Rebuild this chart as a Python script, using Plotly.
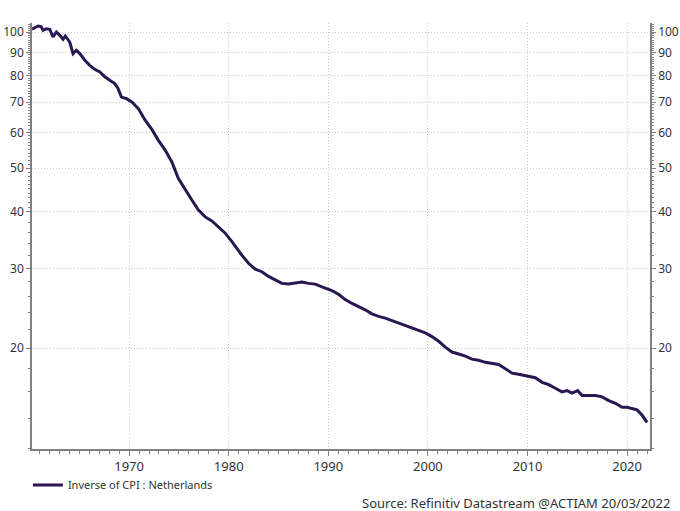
import plotly.graph_objects as go

# Decimal years and values
years = [1960.25, 1960.35, 1960.86, 1961.16, 1961.36, 1961.69, 1962.03, 1962.36, 1962.70, 1963.04,
         1963.37, 1963.60, 1964.04, 1964.37, 1964.70, 1965.05, 1965.55, 1966.05, 1966.55, 1967.06,
         1967.56, 1968.06, 1968.56, 1968.89, 1969.23, 1969.73, 1970.27, 1970.93, 1971.61, 1972.28,
         1972.94, 1973.62, 1974.29, 1974.95, 1975.63, 1976.30, 1976.96, 1977.64, 1978.31, 1978.97,
         1979.65, 1980.32, 1980.65, 1981.32, 1981.99, 1982.66, 1983.33, 1984.00, 1984.67, 1985.34,
         1986.01, 1986.68, 1987.35, 1988.01, 1988.69, 1989.36, 1990.02, 1990.36, 1991.03, 1991.70,
         1992.38, 1993.04, 1993.71, 1994.38, 1995.05, 1995.72, 1996.39, 1997.06, 1997.73, 1998.40,
         1999.07, 1999.74, 2000.41, 2001.08, 2001.75, 2002.42, 2003.09, 2003.76, 2004.43, 2005.09,
         2005.77, 2006.44, 2007.10, 2007.78, 2008.45, 2009.11, 2009.79, 2010.46, 2010.79, 2011.46,
         2012.13, 2012.80, 2013.47, 2013.97, 2014.47, 2015.04, 2015.48, 2016.15, 2016.82, 2017.49,
         2018.16, 2018.83, 2019.50, 2020.00, 2020.51, 2021.00, 2021.51, 2022.01]
values = [101.5, 101.7, 103.1, 102.8, 100.9, 101.7, 101.4, 97.5, 100.0, 98.3,
          96.4, 98.0, 95.0, 89.6, 91.1, 89.6, 86.6, 84.4, 82.7, 81.6,
          79.6, 78.2, 76.9, 75.0, 71.8, 71.2, 70.0, 67.7, 63.8, 60.9,
          57.6, 54.8, 51.6, 47.4, 44.7, 42.5, 40.4, 39.0, 38.2, 37.1,
          35.9, 34.4, 33.6, 32.1, 30.8, 29.9, 29.5, 28.8, 28.3, 27.8,
          27.7, 27.8, 28.0, 27.8, 27.7, 27.3, 27.0, 26.8, 26.3, 25.6,
          25.1, 24.7, 24.3, 23.8, 23.5, 23.3, 23.0, 22.7, 22.5, 22.2,
          21.9, 21.6, 21.2, 20.7, 20.1, 19.6, 19.4, 19.2, 18.9, 18.8,
          18.6, 18.5, 18.4, 18.0, 17.6, 17.5, 17.4, 17.3, 17.2, 16.8,
          16.6, 16.3, 16.0, 16.1, 15.9, 16.1, 15.7, 15.7, 15.7, 15.6,
          15.3, 15.1, 14.8, 14.8, 14.7, 14.6, 14.2, 13.7]

x_ticks = [1970, 1980, 1990, 2000, 2010, 2020]
y_ticks = [20, 30, 40, 50, 60, 70, 80, 90, 100]
y_minor = [12, 14, 16, 18, 22, 24, 26, 28, 32, 34, 36, 38] + list(range(41, 50)) + \
          list(range(51, 60)) + list(range(61, 70)) + list(range(71, 80)) + \
          list(range(81, 90)) + list(range(91, 100)) + [101, 102, 103, 104, 105]

series_name = "Inverse of CPI : Netherlands"
source_text = "Source: Refinitiv Datastream @ACTIAM 20/03/2022"

LINE = "#2a1650"
AXIS = "#808080"
GRID = "#c8c8c8"
TXT = "#333333"
FONT = "Noto Sans"

fig = go.Figure()
fig.add_trace(go.Scatter(x=years, y=values, mode="lines", name=series_name,
                         line=dict(color=LINE, width=3)))
fig.add_trace(go.Scatter(x=years, y=values, mode="lines", yaxis="y2", showlegend=False,
                         hoverinfo="skip", line=dict(color="rgba(0,0,0,0)", width=0)))

yax = dict(type="log", range=[1.0778, 2.0199], tickmode="array", tickvals=y_ticks,
           ticktext=[str(v) for v in y_ticks], ticks="outside", ticklen=4, tickwidth=1,
           tickcolor=AXIS, showline=True, linecolor=AXIS, linewidth=1.5, automargin=False,
           tickfont=dict(family=FONT, size=12, color=TXT), zeroline=False,
           minor=dict(tickmode="array", tickvals=y_minor, ticks="outside", ticklen=2,
                      tickcolor=AXIS, showgrid=False))

fig.update_layout(
    width=680, height=511,
    margin=dict(l=32, r=30, t=23, b=62, autoexpand=False),
    paper_bgcolor="white", plot_bgcolor="white",
    font=dict(family=FONT, color=TXT),
    xaxis=dict(range=[1960.25, 2022.3], tickmode="array", tickvals=x_ticks,
               ticks="outside", ticklen=5, tickcolor=AXIS, showline=True, linecolor=AXIS,
               linewidth=1.5, showgrid=True, gridcolor=GRID, griddash="1px,2px", gridwidth=1,
               zeroline=False, automargin=False, tickfont=dict(family=FONT, size=13, color=TXT),
               minor=dict(dtick=1, tick0=1960, ticks="outside", ticklen=3,
                          tickcolor=AXIS, showgrid=False)),
    yaxis=dict(**yax, side="left", showgrid=True, gridcolor=GRID, griddash="1px,2px", gridwidth=1),
    yaxis2=dict(**yax, side="right", overlaying="y", anchor="x", showgrid=False),
    showlegend=True,
    legend=dict(xref="container", yref="container", x=0.041, y=0.051,
                xanchor="left", yanchor="middle", orientation="h",
                font=dict(family=FONT, size=11, color=TXT), itemwidth=30,
                bgcolor="rgba(0,0,0,0)"),
    annotations=[dict(text=source_text, xref="paper", yref="paper", x=1.0356, y=-0.1267,
                      xanchor="right", yanchor="middle", showarrow=False,
                      font=dict(family=FONT, size=13, color=TXT))],
)

fig.write_html("out.html")
